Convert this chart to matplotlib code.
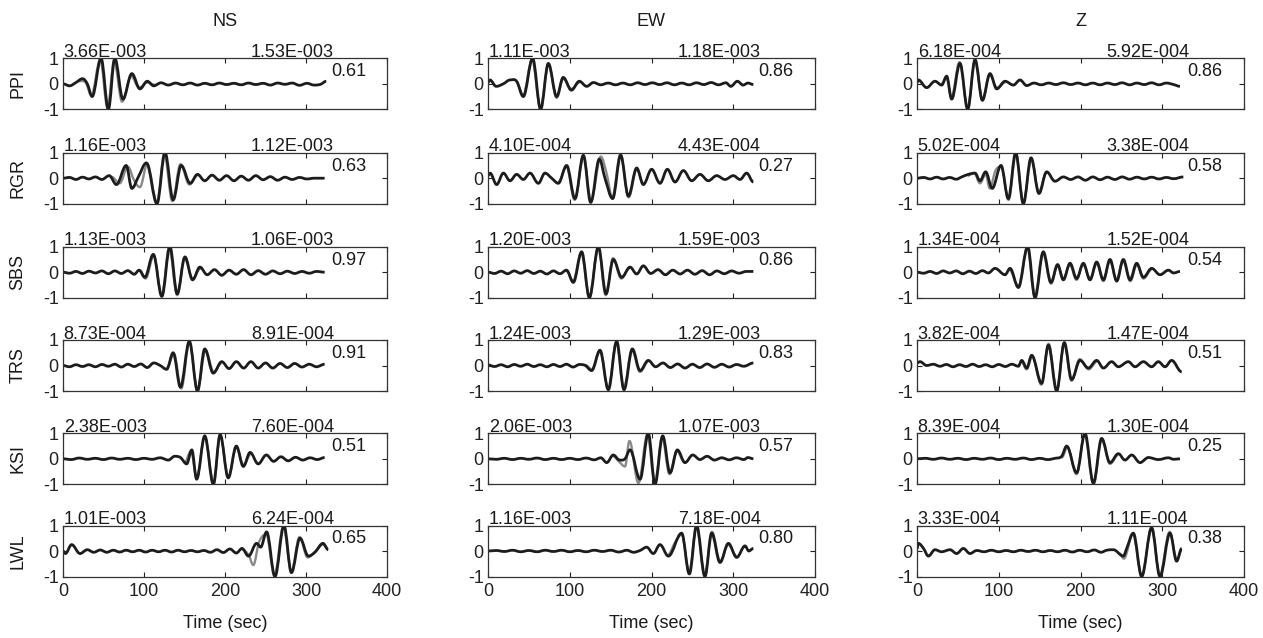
import matplotlib
matplotlib.use("Agg")
import matplotlib.pyplot as plt
from matplotlib.path import Path
from matplotlib.patches import PathPatch

plt.rcParams['font.family'] = ['Liberation Sans', 'DejaVu Sans']

components = ['NS', 'EW', 'Z']
stations = ['PPI', 'RGR', 'SBS', 'TRS', 'KSI', 'LWL']
x_ticks = [0, 100, 200, 300, 400]
y_ticks = [-1, 0, 1]

left_amp = {
    'NS': ['3.66E-003', '1.16E-003', '1.13E-003', '8.73E-004', '2.38E-003', '1.01E-003'],
    'EW': ['1.11E-003', '4.10E-004', '1.20E-003', '1.24E-003', '2.06E-003', '1.16E-003'],
    'Z':  ['6.18E-004', '5.02E-004', '1.34E-004', '3.82E-004', '8.39E-004', '3.33E-004'],
}
right_amp = {
    'NS': ['1.53E-003', '1.12E-003', '1.06E-003', '8.91E-004', '7.60E-004', '6.24E-004'],
    'EW': ['1.18E-003', '4.43E-004', '1.59E-003', '1.29E-003', '1.07E-003', '7.18E-004'],
    'Z':  ['5.92E-004', '3.38E-004', '1.52E-004', '1.47E-004', '1.30E-004', '1.11E-004'],
}
corr = {
    'NS': ['0.61', '0.63', '0.97', '0.91', '0.51', '0.65'],
    'EW': ['0.86', '0.27', '0.86', '0.83', '0.57', '0.80'],
    'Z':  ['0.86', '0.58', '0.54', '0.51', '0.25', '0.38'],
}

# ---- observed (black) and synthetic (gray) traces: (time s, normalized amplitude)
NS_PPI_obs = [(0,0),(8,-0.08),(16,0.05),(24,0.2),(30,0.0),(36,-0.5),(47,1.0),(56,-1.0),(64,1.0),(74,-0.6),(85,0.4),(95,-0.2),(104,0.1),(112,-0.08),(121,0.04),(130,-0.05),(139,0.03),(148,-0.04),(157,0.03),(166,-0.05),(175,0.02),(184,-0.04),(193,0.03),(202,-0.03),(211,0.02),(220,-0.04),(229,0.03),(238,-0.03),(247,0.02),(256,-0.05),(265,0.03),(274,-0.02),(283,0.03),(292,-0.06),(301,0.02),(310,-0.05),(318,-0.02),(325,0.1)]
NS_PPI_syn = [(20,0.1),(28,0.05),(35,-0.45),(46,0.95),(55,-0.95),(63,0.9),(73,-0.7),(84,0.3),(94,-0.15),(104,0.05),(115,-0.05)]

NS_RGR_obs = [(0,0),(8,0.03),(16,-0.05),(24,0.04),(32,-0.03),(40,0.05),(48,-0.05),(57,0.1),(66,-0.25),(78,0.5),(85,-0.4),(93,0.05),(103,0.6),(116,-1.0),(126,1.0),(136,-0.85),(146,0.5),(157,-0.2),(166,0.15),(175,-0.1),(184,0.12),(193,-0.08),(202,0.1),(211,-0.1),(220,0.08),(229,-0.08),(238,0.1),(247,-0.06),(256,0.06),(265,-0.08),(274,0.04),(283,-0.05),(292,0.03),(301,-0.03),(310,0.0),(323,0.0)]
NS_RGR_syn = [(60,0.05),(70,-0.2),(80,0.45),(88,-0.1),(95,-0.35),(104,0.55),(116,-0.95),(125,0.95),(135,-0.9),(145,0.55),(156,-0.25),(166,0.1)]

NS_SBS_obs = [(0,0),(8,-0.04),(16,0.03),(24,-0.05),(32,0.04),(40,-0.03),(48,0.05),(56,-0.06),(64,0.05),(72,-0.05),(80,0.06),(88,-0.08),(94,0.08),(101,-0.2),(111.5,0.7),(122,-0.95),(132,1.0),(141,-0.85),(150.6,0.6),(160,-0.3),(169,0.2),(178,-0.1),(187,0.1),(196,-0.12),(205,0.08),(214,-0.08),(223,0.1),(232,-0.1),(241,0.06),(250,-0.08),(259,0.05),(268,-0.06),(277,0.04),(286,-0.05),(295,0.03),(304,-0.04),(313,0.03),(323,0.0)]
NS_SBS_syn = [(95,0.05),(102,-0.25),(112,0.65),(122,-0.9),(131,0.95),(141,-0.9),(150,0.55),(160,-0.25),(170,0.15)]

NS_TRS_obs = [(0,0),(8,-0.05),(16,0.03),(24,-0.04),(32,0.03),(40,-0.05),(48,0.04),(56,-0.03),(64,0.05),(72,-0.06),(80,0.05),(88,-0.04),(96,0.06),(104,-0.08),(112,0.1),(120,0.0),(128,-0.15),(136,0.5),(145,-0.85),(156,0.95),(166,-1.0),(175,0.65),(185.5,-0.3),(196,0.15),(205,-0.12),(214,0.15),(223,-0.1),(232,0.15),(241,-0.1),(250,0.1),(259,-0.1),(268,0.08),(277,-0.08),(286,0.08),(295,-0.06),(304,0.05),(313,-0.05),(323,0.05)]
NS_TRS_syn = [(128,-0.1),(137,0.45),(146,-0.9),(156,0.9),(166,-0.95),(176,0.6),(186,-0.25),(196,0.1)]

NS_KSI_obs = [(0,0),(10,-0.03),(20,0.03),(30,-0.02),(40,0.02),(50,-0.03),(60,0.03),(70,-0.02),(80,0.02),(90,-0.03),(100,0.02),(110,-0.02),(120,0.04),(130,-0.05),(138,0.1),(145,0.05),(152.7,-0.2),(159,0.35),(165,-0.8),(175,0.9),(185.6,-1.0),(194,0.95),(204,-0.75),(214,0.5),(222.6,-0.3),(231,0.25),(241,-0.2),(251,0.15),(260,-0.1),(269,0.08),(278,-0.08),(287,0.06),(296,-0.05),(305,0.04),(314,-0.03),(323,0.05)]
NS_KSI_syn = [(150,-0.15),(158,0.3),(165,-0.75),(175,0.85),(186,-0.95),(194,0.9),(204,-0.7),(214,0.45),(223,-0.25),(232,0.2)]

NS_LWL_obs = [(0,0),(3,-0.1),(10.7,0.25),(21,-0.1),(30,0.05),(38,-0.05),(46,0.04),(54,-0.05),(62,0.03),(70,-0.04),(78,0.03),(86,-0.03),(94,0.03),(102,-0.04),(110,0.03),(118,-0.03),(126,0.03),(134,-0.04),(142,0.03),(150,-0.03),(158,0.02),(166,-0.03),(174,0.02),(182,-0.05),(190,0.05),(198,-0.06),(206,0.08),(214,-0.08),(221,0.1),(229,-0.2),(239,0.3),(244,0.15),(251.4,0.75),(261.7,-1.0),(272.8,1.0),(282,-0.85),(292.6,0.5),(302.9,-0.2),(311,-0.05),(321,0.3),(327.5,0.05)]
NS_LWL_syn = [(221,0.05),(229,-0.15),(235,-0.55),(242,0.35),(251,0.65),(261,-0.95),(272,0.95),(282,-0.8),(292,0.55),(302,-0.25),(312,0.0),(321,0.25),(327,0.1)]

EW_PPI_obs = [(0,0.05),(2.4,0.15),(10,-0.1),(18.8,0.0),(26.9,0.15),(35,0.1),(43.2,-0.5),(54.6,1.0),(64.4,-1.0),(73.8,0.8),(84,-0.5),(92,0.25),(102,-0.25),(111.7,0.1),(120.7,-0.1),(129,0.05),(138,-0.04),(147,0.03),(156,-0.04),(165,0.03),(174,-0.04),(183,0.04),(192,-0.03),(201,0.04),(210,-0.03),(219,0.04),(228,-0.04),(237,0.03),(246,-0.04),(255,0.04),(264,-0.03),(273,0.05),(282,-0.04),(291,0.04),(297,-0.1),(305,0.1),(312,-0.05),(318,0.03),(324.6,-0.03)]
EW_PPI_syn = [(35,0.05),(43,-0.45),(54,0.95),(64,-0.95),(74,0.75),(84,-0.55),(92,0.2),(102,-0.2),(112,0.05)]

EW_RGR_obs = [(0,0.1),(2.5,0.2),(10.6,-0.25),(18.8,0.2),(26.9,-0.1),(35.1,0.15),(43.2,-0.05),(51.4,0.2),(61.6,-0.2),(69.7,0.2),(77.9,0.0),(86,-0.2),(96.2,0.5),(106.4,-0.8),(116.6,0.9),(125.6,-0.95),(136.2,0.75),(143.1,0.0),(152.5,-0.8),(162.3,0.9),(171.7,-0.7),(181.9,0.4),(190,-0.25),(200.2,0.35),(210.4,-0.2),(219.4,0.35),(228.8,-0.15),(239,0.3),(249.2,-0.1),(259.3,0.15),(269.5,-0.1),(279.7,0.1),(289.9,-0.05),(300.1,0.1),(308.3,-0.05),(316.4,0.2),(324.6,-0.15)]
EW_RGR_syn = [(86,-0.15),(96,0.45),(106,-0.85),(117,0.85),(126,-0.9),(138,0.85),(145,0.2),(152,-0.75),(162,0.95),(172,-0.75),(182,0.35),(190,-0.2)]

EW_SBS_obs = [(0,0),(8,-0.05),(16,0.04),(24,-0.06),(32,0.05),(40,-0.04),(48,0.06),(56,-0.05),(64,0.04),(72,-0.07),(80,0.05),(88,-0.06),(96,0.08),(104.4,-0.4),(114.6,0.8),(124,-1.0),(135,1.0),(144.4,-0.85),(153.3,0.5),(163.5,-0.2),(173.7,0.2),(181.9,-0.07),(190,0.25),(199,-0.05),(208,0.1),(217,-0.1),(226,0.08),(235,-0.07),(244,0.08),(253,-0.08),(262,0.06),(271,-0.1),(280,0.05),(289,-0.06),(298,0.05),(307,-0.04),(316,0.03),(324.6,0.03)]
EW_SBS_syn = [(96,0.05),(104,-0.35),(114,0.75),(124,-0.95),(135,0.95),(144,-0.9),(153,0.55),(163,-0.25),(173,0.15)]

EW_TRS_obs = [(0,0.02),(8,-0.04),(16,0.03),(24,-0.05),(32,0.04),(40,-0.03),(48,0.05),(56,-0.04),(64,0.03),(72,-0.05),(80,0.04),(88,-0.04),(96,0.05),(104,-0.06),(112,0.04),(119,0.0),(126.8,-0.2),(137,0.6),(147.2,-0.95),(157.4,0.95),(166.4,-0.95),(176.6,0.65),(186,-0.2),(196.1,0.2),(205,-0.05),(214,0.1),(223,-0.08),(232,0.06),(241,-0.1),(250,0.05),(259,-0.08),(268,0.06),(277,-0.07),(286,0.05),(295,-0.06),(304,0.04),(313,-0.03),(324.6,0.1)]
EW_TRS_syn = [(119,0.02),(127,-0.15),(137,0.55),(147,-0.9),(157,0.9),(166,-0.9),(176,0.6),(186,-0.25),(196,0.15)]

EW_KSI_obs = [(0,0),(10,-0.02),(20,0.02),(30,-0.03),(40,0.02),(50,-0.02),(60,0.03),(70,-0.03),(80,0.02),(90,-0.03),(100,0.02),(110,-0.03),(120,0.03),(130,-0.04),(138,0.04),(145.2,-0.15),(153.3,0.15),(161,-0.05),(167.6,0.0),(173.7,0.35),(186,-0.8),(196.1,1.0),(204.3,-1.0),(213.7,0.9),(222.7,-0.55),(231.6,0.35),(241,-0.15),(250.4,0.15),(259.3,-0.03),(268,0.1),(277,-0.05),(286,0.04),(295,-0.04),(304,0.04),(313,-0.03),(318,0.05),(324.6,0.0)]
EW_KSI_syn = [(153,0.1),(160,-0.1),(167.6,-0.3),(173,0.7),(184,-0.95),(195,0.95),(204,-0.95),(213,0.85),(222,-0.6),(231,0.3),(241,-0.15)]

EW_LWL_obs = [(0,0),(10,0.02),(20,-0.02),(30,0.03),(40,-0.03),(50,0.02),(60,-0.03),(70,0.03),(80,-0.02),(90,0.03),(100,-0.03),(110,0.02),(120,-0.03),(130,0.03),(140,-0.02),(150,0.03),(160,-0.04),(170,0.03),(177.8,-0.05),(186,0.02),(194.1,0.15),(202.2,-0.1),(210.4,0.25),(220.6,-0.2),(236.9,0.7),(246.3,-0.9),(255.2,1.0),(265.4,-1.0),(273.6,0.7),(283.8,-0.45),(294,0.3),(304.2,-0.25),(314.4,0.2),(319,0.0),(324.6,0.1)]
EW_LWL_syn = [(220,-0.15),(229,0.35),(237,0.65),(246,-0.85),(255,0.95),(265,-0.95),(274,0.75),(284,-0.4),(294,0.25),(304,-0.2)]

Z_PPI_obs = [(0,0.05),(1.6,0.15),(11.8,-0.15),(22,0.1),(30.2,-0.05),(36.3,0.3),(42.4,-0.6),(52.6,0.8),(62,-1.0),(71,0.95),(80,-0.65),(89.3,0.4),(97.5,-0.2),(107.7,0.1),(117.9,-0.05),(126,0.15),(134.2,-0.07),(143,0.03),(152,-0.04),(161,0.03),(170,-0.03),(179,0.04),(188,-0.03),(197,0.03),(206,-0.04),(215,0.03),(224,-0.04),(233,0.03),(242,-0.03),(251,0.04),(260,-0.04),(269,0.03),(278,-0.03),(287,0.04),(296,-0.04),(305,0.03),(314,-0.03),(321.7,-0.1)]
Z_PPI_syn = [(30,0.0),(36,0.25),(42,-0.55),(52,0.85),(62,-0.95),(71,0.9),(80,-0.6),(89,0.35),(98,-0.15),(108,0.05)]

Z_RGR_obs = [(0,0.0),(8,0.03),(16,-0.03),(24,0.04),(32,-0.03),(40,0.03),(48,-0.04),(54.7,0.05),(62.8,0.15),(71,0.2),(77,-0.1),(84,0.25),(92,-0.4),(102.8,0.5),(111.7,-0.8),(120.7,1.0),(130.1,-1.0),(139.5,0.8),(149.2,-0.6),(158.6,0.25),(168.8,-0.12),(179,0.05),(188,-0.05),(197,0.05),(206,-0.08),(215,0.05),(224,-0.06),(233,0.04),(242,-0.05),(251,0.05),(260,-0.04),(269,0.04),(278,-0.03),(287,0.04),(296,-0.03),(305,0.03),(314,-0.02),(325.8,0.05)]
Z_RGR_syn = [(62,0.1),(70,0.2),(77,-0.2),(84,0.15),(89,-0.4),(96,0.3),(103,0.45),(112,-0.85),(121,0.95),(130,-0.95),(140,0.75),(149,-0.55),(158,0.2)]

Z_SBS_obs = [(0,0.0),(8,-0.04),(16,0.03),(24,-0.05),(32,0.05),(40,-0.03),(48,0.05),(56,-0.06),(64,0.04),(72,-0.05),(80,0.06),(87.3,-0.03),(95.4,0.15),(107.7,-0.1),(113.8,0.15),(124,-0.6),(135.4,1.0),(144.4,-1.0),(154.5,0.8),(163.9,-0.4),(172,0.3),(179,-0.3),(187.2,0.35),(195.3,-0.25),(203.5,0.35),(211.6,-0.3),(219.8,0.4),(228,-0.3),(236.1,0.5),(244.3,-0.35),(252.4,0.5),(260.6,-0.3),(268.7,0.35),(276.9,-0.2),(287.1,0.15),(297.3,-0.1),(307.5,0.08),(314,-0.03),(321.7,0.03)]
Z_SBS_syn = [(113,0.1),(124,-0.55),(135,0.95),(144,-0.95),(154,0.75),(164,-0.45),(172,0.25),(179,-0.25),(187,0.3),(195,-0.3),(203,0.3),(212,-0.25),(220,0.35),(228,-0.35),(236,0.45),(244,-0.3),(252,0.45),(261,-0.35),(269,0.3),(277,-0.25),(287,0.1)]

Z_TRS_obs = [(0,0.1),(3.7,0.15),(11.8,0.0),(20,0.05),(28,-0.03),(36,0.04),(44,-0.05),(52,0.03),(60,-0.04),(68,0.05),(76,-0.04),(84,0.03),(92,-0.05),(100,0.04),(108,-0.04),(116,0.05),(124,-0.03),(128.1,0.2),(134.2,-0.1),(140.3,0.4),(152.5,-0.7),(160.7,0.8),(170.9,-1.0),(180.2,0.9),(189.2,-0.55),(199.4,0.2),(209.6,-0.1),(219.8,0.2),(228,-0.1),(238.1,0.15),(246.3,-0.05),(258.5,0.15),(266.7,-0.05),(276.9,0.15),(287.1,-0.05),(295.2,0.15),(303.4,-0.05),(311.5,0.2),(323.8,-0.25)]
Z_TRS_syn = [(128,0.15),(134,-0.15),(141,0.35),(152,-0.75),(161,0.85),(171,-0.95),(180,0.85),(189,-0.6),(199,0.25),(210,-0.15),(220,0.15)]

Z_KSI_obs = [(0,0.0),(10,0.02),(20,-0.02),(30,0.03),(40,-0.02),(50,0.02),(60,-0.03),(70,0.02),(80,-0.02),(90,0.03),(100,-0.03),(110,0.02),(120,-0.02),(130,0.03),(140,-0.03),(150,0.02),(160,-0.03),(168.8,0.02),(177,0.1),(183.1,0.5),(195.3,-0.55),(205.5,1.0),(215.7,-0.95),(225.9,0.8),(236.1,-0.15),(246.3,0.2),(254.4,-0.05),(262.6,0.15),(272.8,-0.15),(283,0.05),(295.2,-0.03),(307.5,0.04),(314,-0.02),(321.7,0.0)]
Z_KSI_syn = [(177,0.05),(184,0.45),(195,-0.6),(205,0.95),(216,-1.0),(226,0.75),(236,-0.2),(246,0.15)]

Z_LWL_obs = [(0,0.1),(1.6,0.3),(8,0.1),(13.9,-0.2),(22,0.05),(30,-0.03),(40.4,0.05),(48.5,-0.1),(56.7,0.1),(64.8,-0.1),(73,0.02),(82,-0.03),(91,0.03),(100,-0.03),(109,0.02),(118,-0.03),(127,0.03),(136,-0.02),(145,0.03),(154,-0.03),(163,0.02),(172,-0.03),(181,0.03),(190,-0.04),(199,0.03),(208,-0.03),(217,0.04),(225,-0.05),(232,0.03),(240.2,0.05),(252.4,-0.2),(256.5,0.1),(264.6,0.7),(274.8,-1.0),(287,0.9),(297.2,-1.0),(309.5,0.7),(317.6,-0.4),(323.8,0.1)]
Z_LWL_syn = [(248,-0.1),(253,-0.3),(264,0.65),(275,-0.95),(287,0.95),(297,-0.95),(309,0.75),(318,-0.35),(324,0.05)]

observed = {
    'NS': [NS_PPI_obs, NS_RGR_obs, NS_SBS_obs, NS_TRS_obs, NS_KSI_obs, NS_LWL_obs],
    'EW': [EW_PPI_obs, EW_RGR_obs, EW_SBS_obs, EW_TRS_obs, EW_KSI_obs, EW_LWL_obs],
    'Z':  [Z_PPI_obs, Z_RGR_obs, Z_SBS_obs, Z_TRS_obs, Z_KSI_obs, Z_LWL_obs],
}
synthetic = {
    'NS': [NS_PPI_syn, NS_RGR_syn, NS_SBS_syn, NS_TRS_syn, NS_KSI_syn, NS_LWL_syn],
    'EW': [EW_PPI_syn, EW_RGR_syn, EW_SBS_syn, EW_TRS_syn, EW_KSI_syn, EW_LWL_syn],
    'Z':  [Z_PPI_syn, Z_RGR_syn, Z_SBS_syn, Z_TRS_syn, Z_KSI_syn, Z_LWL_syn],
}


def smooth_path(pts):
    """Bezier path through the read points (flat tangent at extrema)."""
    n = len(pts)
    slopes = []
    for i in range(n):
        if i == 0 or i == n - 1:
            slopes.append(0.0)
            continue
        (t0, v0), (t1, v1), (t2, v2) = pts[i - 1], pts[i], pts[i + 1]
        if (v1 - v0) * (v2 - v1) <= 0:
            slopes.append(0.0)
        else:
            slopes.append((v2 - v0) / (t2 - t0))
    verts = [pts[0]]
    codes = [Path.MOVETO]
    for i in range(n - 1):
        (ta, va), (tb, vb) = pts[i], pts[i + 1]
        d = (tb - ta) * 0.36
        verts += [(ta + d, va + slopes[i] * d), (tb - d, vb - slopes[i + 1] * d), (tb, vb)]
        codes += [Path.CURVE4] * 3
    return Path(verts, codes)


# ---- layout (pixels)
W, H = 1263, 638
col_left = [63, 488, 917]
col_width = [324, 327, 327]
row_top = [58.3, 152.7, 246.7, 340, 433.3, 525.5]
row_h = 51

FS = 13
fig = plt.figure(figsize=(W / 100, H / 100), dpi=100)

for c, comp in enumerate(components):
    for r, st in enumerate(stations):
        ax = fig.add_axes([col_left[c] / W, 1 - (row_top[r] + row_h) / H,
                           col_width[c] / W, row_h / H])
        ax.add_patch(PathPatch(smooth_path(synthetic[comp][r]), fill=False,
                               edgecolor='#8a8a8a', lw=1.7, joinstyle='round'))
        ax.add_patch(PathPatch(smooth_path(observed[comp][r]), fill=False,
                               edgecolor='#1c1c1c', lw=2.0, joinstyle='round'))
        ax.set_xlim(0, 400)
        ax.set_ylim(-1, 1)
        ax.set_xticks(x_ticks)
        ax.set_yticks(y_ticks)
        ax.set_yticklabels([str(v) for v in y_ticks])
        ax.tick_params(direction='in', top=True, right=True, length=3.5, width=0.8,
                       labelsize=FS, pad=3, colors='#222222')
        if r < len(stations) - 1:
            ax.set_xticklabels([])
        else:
            ax.tick_params(axis='x', pad=5)
        for sp in ax.spines.values():
            sp.set_linewidth(0.9)
            sp.set_color('#333333')
        ax.annotate(left_amp[comp][r], xy=(0, 1), xycoords='axes fraction',
                    xytext=(0.5, 1.0), textcoords='offset points',
                    ha='left', va='baseline', fontsize=FS, color='#1a1a1a')
        ax.annotate(right_amp[comp][r], xy=(0.58, 1), xycoords='axes fraction',
                    xytext=(0, 1.0), textcoords='offset points',
                    ha='left', va='baseline', fontsize=FS, color='#1a1a1a')
        ax.text(0.8275, 0.65, corr[comp][r], transform=ax.transAxes,
                ha='left', va='baseline', fontsize=FS, color='#1a1a1a')
        if c == 0:
            fig.text(18 / W, 1 - (row_top[r] + row_h / 2) / H, st, rotation=90,
                     ha='center', va='center', fontsize=FS, color='#1a1a1a')
    cx = (col_left[c] + col_width[c] / 2) / W
    fig.text(cx, 1 - 22 / H, comp, ha='center', va='center', fontsize=FS, color='#1a1a1a')
    fig.text(cx, 1 - 623 / H, 'Time (sec)', ha='center', va='center', fontsize=FS,
             color='#1a1a1a')

fig.savefig('out.png', dpi=100, facecolor='white')
